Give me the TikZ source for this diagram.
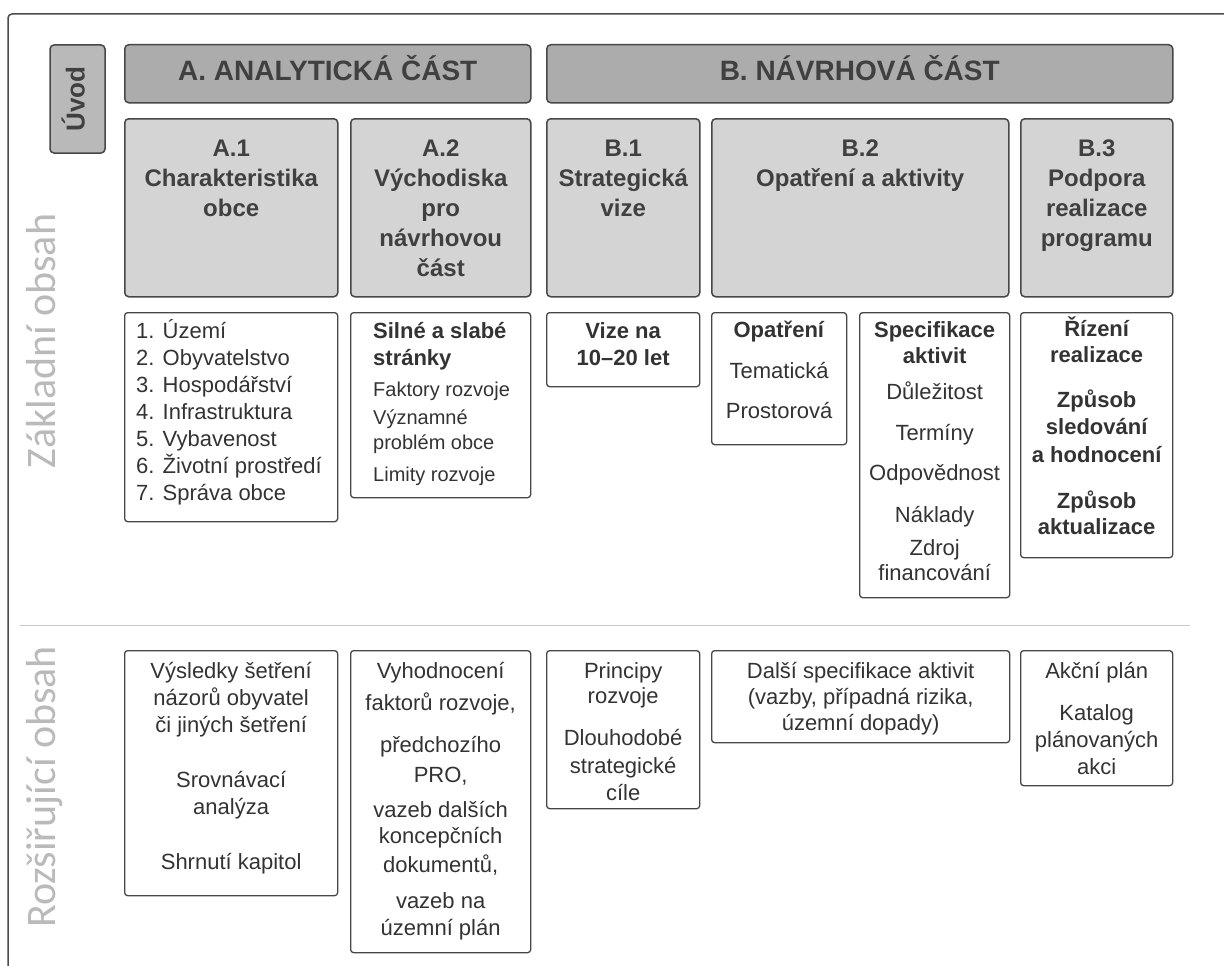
\documentclass[tikz,border=0pt]{standalone}
\usepackage{fontspec}
\setmainfont{Liberation Sans}
\newfontfamily\sidefont{Carlito}
\usetikzlibrary{positioning}

\newcommand{\partfont}{\fontsize{28}{34}\selectfont\bfseries}
\newcommand{\headfont}{\fontsize{24}{30}\selectfont\bfseries}
\newcommand{\itemfont}{\fontsize{22}{27}\selectfont}
\newcommand{\smallitemfont}{\fontsize{20}{25}\selectfont}

\begin{document}
\begin{tikzpicture}[x=1pt,y=-1pt,
	every node/.style={inner sep=0pt,text=black!80},
	partbox/.style={draw=black!72,fill=gray!65,line width=1.5pt,rounded corners=4pt,anchor=north west,font=\partfont,text=black!75,text height=14pt,text depth=0pt},
	headbox/.style={draw=black!72,fill=gray!34,line width=1.5pt,rounded corners=4pt,anchor=north west},
	listbox/.style={draw=black!72,fill=white,line width=1.3pt,rounded corners=3pt,anchor=north west},
	headtext/.style={align=center,font=\headfont,text=black!75},
	listtext/.style={align=center,font=\itemfont},
	sidelabel/.style={rotate=90,anchor=base,font=\sidefont\fontsize{42}{50}\selectfont,text=black!27}]

		\useasboundingbox (0,0) rectangle (1224,966);
		\fill[white] (0,0) rectangle (1224,966);

		%frame
		\draw[black!70,line width=1.5pt,rounded corners=4pt] (8,966) -- (8,14) -- (1224,14);
		\draw[black!22,line width=1pt] (20,625) -- (1190,625);

		%side labels
		\node[sidelabel] (basic) at (55,341) {Základní obsah};
		\node[sidelabel] (extended) at (55,787) {Rozšiřující obsah};

		%parts
		\node[partbox,fill=gray!55,rotate=90,anchor=center,minimum width=108pt,minimum height=55pt,font=\fontsize{26}{30}\selectfont\bfseries] (intro) at (77.5,99) {Úvod};
		\node[partbox,minimum width=406pt,minimum height=58pt] (partA) at (124,44) {A. ANALYTICKÁ ČÁST};
		\node[partbox,minimum width=626pt,minimum height=58pt] (partB) at (546,44) {B. NÁVRHOVÁ ČÁST};

		%chapter boxes
		\node[headbox,minimum width=213pt,minimum height=178pt] (a1) at (124,118) {};
		\node[headbox,minimum width=180pt,minimum height=178pt] (a2) at (350,118) {};
		\node[headbox,minimum width=153pt,minimum height=178pt] (b1) at (546,118) {};
		\node[headbox,minimum width=297pt,minimum height=178pt] (b2) at (711,118) {};
		\node[headbox,minimum width=152pt,minimum height=178pt] (b3) at (1020,118) {};

		\node[headtext,below=22pt of a1.north] (a1t) {A.1\\Charakteristika\\obce};
		\node[headtext,below=22pt of a2.north] (a2t) {A.2\\Východiska\\pro\\návrhovou\\část};
		\node[headtext,below=22pt of b1.north] (b1t) {B.1\\Strategická\\vize};
		\node[headtext,below=22pt of b2.north] (b2t) {B.2\\Opatření a aktivity};
		\node[headtext,below=22pt of b3.north] (b3t) {B.3\\Podpora\\realizace\\programu};

		%basic content
		\node[listbox,minimum width=213pt,minimum height=209pt] (a1l) at (124,312) {};
		\node[listbox,minimum width=180pt,minimum height=185pt] (a2l) at (350,312) {};
		\node[listbox,minimum width=153pt,minimum height=74pt] (b1l) at (546,312) {};
		\node[listbox,minimum width=135pt,minimum height=132pt] (b2l) at (711,312) {};
		\node[listbox,minimum width=150pt,minimum height=285pt] (b2s) at (859,312) {};
		\node[listbox,minimum width=152pt,minimum height=245pt] (b3l) at (1020,312) {};

		\node[listtext,align=left,below right=7pt and 12pt of a1l.north west] (a1lt) {1. Území\\2. Obyvatelstvo\\3. Hospodářství\\4. Infrastruktura\\5. Vybavenost\\6. Životní prostředí\\7. Správa obce};
		\node[listtext,align=left,font=\itemfont\bfseries,below right=10pt and 23pt of a2l.north west] (a2lt) {Silné a slabé\\stránky};
		\node[listtext,align=left,font=\smallitemfont,below right=70pt and 23pt of a2l.north west] (a2li) {Faktory rozvoje\\[3pt]Významné\\problém obce\\[7pt]Limity rozvoje};
		\node[listtext,font=\itemfont\bfseries,below=10pt of b1l.north] (b1lt) {Vize na\\10–20 let};
		\node[listtext,below=8.5pt of b2l.north] (b2lt) {\textbf{Opatření}\\[14pt]Tematická\\[13pt]Prostorová};
		\node[listtext,below=9pt of b2s.north] (b2st) {\textbf{Specifikace}\\[-1pt]\textbf{aktivit}\\[9pt]Důležitost\\[14pt]Termíny\\[13pt]Odpovědnost\\[15pt]Náklady\\[6pt]Zdroj\\[-2pt]financování};
		\node[listtext,font=\itemfont\bfseries,below=5pt of b3l.north] (b3lt) {Řízení\\[-1pt]realizace\\[18pt]Způsob\\sledování\\[1pt]a hodnocení\\[19pt]Způsob\\[-1pt]aktualizace};

		%extended content
		\node[listbox,minimum width=213pt,minimum height=245pt] (a1e) at (124,650) {};
		\node[listbox,minimum width=180pt,minimum height=302pt] (a2e) at (350,650) {};
		\node[listbox,minimum width=153pt,minimum height=158pt] (b1e) at (546,650) {};
		\node[listbox,minimum width=298pt,minimum height=92pt] (b2e) at (711,650) {};
		\node[listbox,minimum width=152pt,minimum height=135pt] (b3e) at (1020,650) {};

		\node[listtext,below=12pt of a1e.north] (a1et) {Výsledky šetření\\názorů obyvatel\\či jiných šetření\\[28pt]Srovnávací\\analýza\\[28pt]Shrnutí kapitol};
		\node[listtext,below=12pt of a2e.north] (a2et) {Vyhodnocení\\[5pt]faktorů rozvoje,\\[15pt]předchozího\\[3pt]PRO,\\[8pt]vazeb dalších\\[-1pt]koncepčních\\[2pt]dokumentů,\\[9pt]vazeb na\\územní plán};
		\node[listtext,below=12pt of b1e.north] (b1et) {Principy\\[-2pt]rozvoje\\[15pt]Dlouhodobé\\[1pt]strategické\\cíle};
		\node[listtext,below=12pt of b2e.north] (b2et) {Další specifikace aktivit\\[-1pt](vazby, případná rizika,\\[-1pt]územní dopady)};
		\node[listtext,below=12pt of b3e.north] (b3et) {Akční plán\\[15pt]Katalog\\plánovaných\\akci};

\end{tikzpicture}
\end{document}
